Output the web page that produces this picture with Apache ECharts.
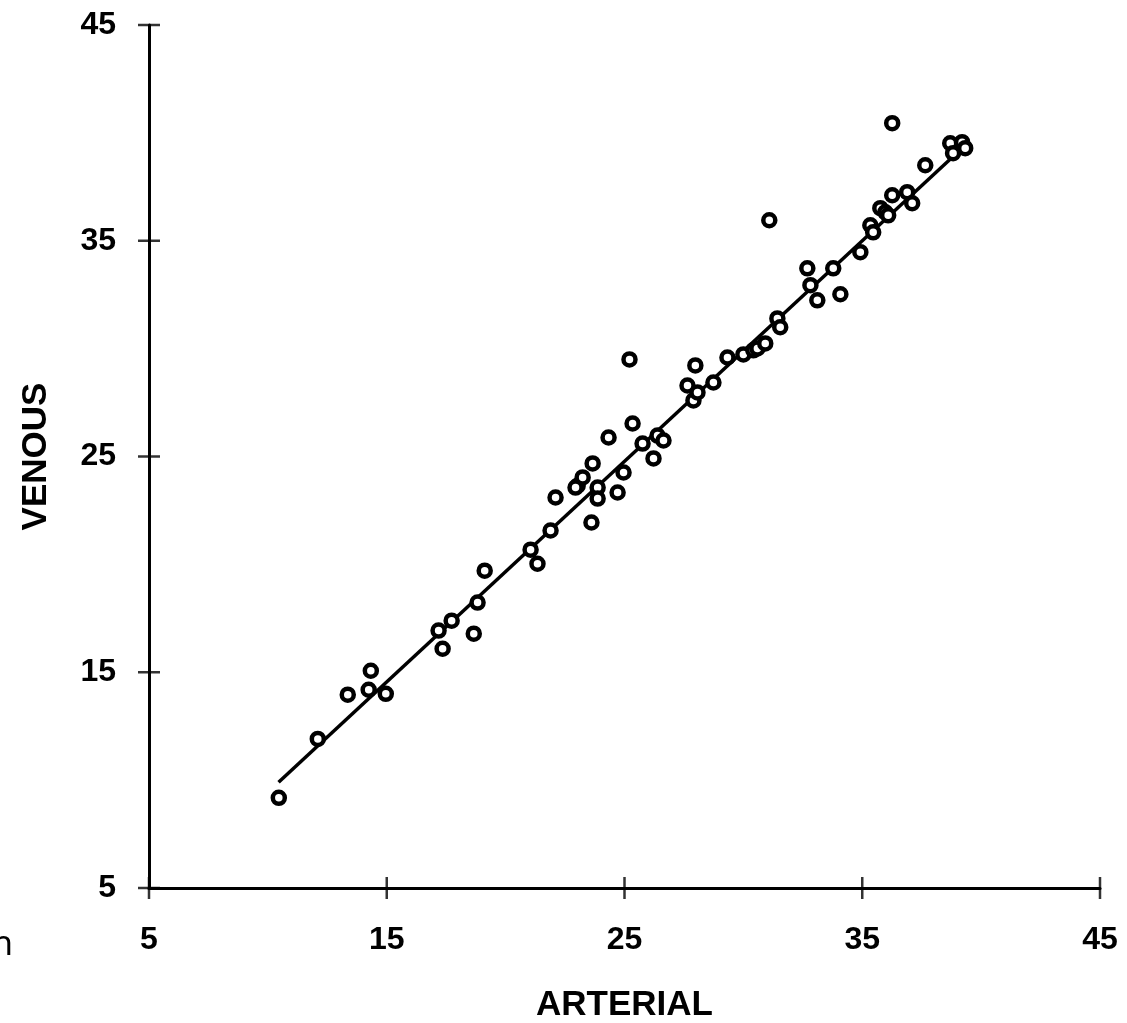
<!DOCTYPE html>
<html>
<head>
<meta charset="utf-8">
<script src="https://cdn.jsdelivr.net/npm/echarts@6/dist/echarts.min.js"></script>
<style>
  html, body { margin: 0; padding: 0; background: #fff; }
  #main { width: 1127px; height: 1023px; }
</style>
</head>
<body>
<div id="main"></div>
<script>
// arterial vs venous
var arterial = [10.46, 12.10, 13.36, 14.33, 14.24, 14.96, 17.18, 17.35, 17.73, 18.66,
  18.82, 19.12, 21.05, 21.34, 21.89, 22.10, 23.03, 23.24, 22.94, 23.61,
  23.66, 23.87, 23.87, 24.71, 24.96, 24.33, 25.21, 25.34, 25.76, 26.22,
  26.39, 26.64, 27.65, 27.90, 27.98, 28.07, 28.74, 29.33, 30.00, 30.42,
  30.59, 30.92, 31.09, 31.43, 31.55, 32.69, 32.82, 33.11, 33.78, 34.08,
  34.92, 35.34, 35.46, 35.76, 35.97, 36.09, 36.26, 36.26, 36.89, 37.10,
  37.65, 38.70, 38.82, 39.20, 39.33];
var venous = [9.18, 11.91, 13.96, 15.07, 14.19, 14.00, 16.93, 16.09, 17.39, 16.79,
  18.23, 19.71, 20.68, 20.03, 21.57, 23.10, 23.65, 24.03, 23.56, 21.94,
  24.68, 23.56, 23.05, 23.33, 24.26, 25.88, 29.50, 26.53, 25.60, 24.91,
  25.97, 25.74, 28.29, 27.60, 29.22, 27.97, 28.43, 29.59, 29.73, 29.92,
  30.01, 30.24, 35.95, 31.40, 30.99, 33.72, 32.94, 32.24, 33.72, 32.52,
  34.47, 35.72, 35.39, 36.51, 36.32, 36.18, 37.11, 40.45, 37.25, 36.74,
  38.50, 39.52, 39.06, 39.57, 39.29];
// fitted line end points
var fitX = [10.45, 39.4];
var fitY = [9.9, 39.5];
var ticks = [5, 15, 25, 35, 45];

var myChart = echarts.init(document.getElementById('main'));

var pts = arterial.map(function (a, i) { return [a, venous[i]]; });
var fit = fitX.map(function (a, i) { return [a, fitY[i]]; });
// crossing tick marks, placed on the axes through the scales
var xTickPts = ticks.map(function (t) { return [t, ticks[0]]; });
var yTickPts = ticks.map(function (t) { return [ticks[0], t]; });

var labelFont = {
  color: '#000',
  fontFamily: 'Liberation Sans',
  fontWeight: 'bold',
  fontSize: 32
};
var nameFont = {
  color: '#000',
  fontFamily: 'Liberation Sans',
  fontWeight: 'bold',
  fontSize: 35
};

var option = {
  animation: false,
  backgroundColor: '#fff',
  grid: { left: 149, right: 27, top: 25, bottom: 135, outerBoundsMode: 'none', containLabel: false },
  xAxis: {
    type: 'value', min: 5, max: 45, interval: 10,
    name: 'ARTERIAL', nameLocation: 'middle', nameGap: 100,
    nameTextStyle: nameFont,
    axisLine: { onZero: false, lineStyle: { color: '#000', width: 3 } },
    axisTick: { show: false },
    axisLabel: Object.assign({ margin: 36 }, labelFont),
    splitLine: { show: false }
  },
  yAxis: {
    type: 'value', min: 5, max: 45, interval: 10,
    name: 'VENOUS', nameLocation: 'middle', nameGap: 95,
    nameTextStyle: nameFont,
    axisLine: { onZero: false, lineStyle: { color: '#000', width: 3 } },
    axisTick: { show: false },
    axisLabel: Object.assign({ margin: 33 }, labelFont),
    splitLine: { show: false }
  },
  graphic: [{
    type: 'text', left: -8, top: 928,
    style: { text: 'n', fontFamily: 'Noto Sans', fontSize: 34, fill: '#000' }
  }],
  series: [{
    type: 'line',
    data: fit,
    symbol: 'none',
    lineStyle: { color: '#000', width: 3.5 },
    z: 2
  }, {
    type: 'scatter',
    data: pts,
    symbol: 'circle',
    symbolSize: 12,
    itemStyle: { color: '#fff', borderColor: '#000', borderWidth: 4.5, opacity: 1 },
    z: 3
  }, {
    type: 'scatter',
    data: xTickPts,
    symbol: 'rect',
    symbolSize: [2.5, 22],
    clip: false,
    silent: true,
    itemStyle: { color: '#000' },
    z: 4
  }, {
    type: 'scatter',
    data: yTickPts,
    symbol: 'rect',
    symbolSize: [22, 2.5],
    clip: false,
    silent: true,
    itemStyle: { color: '#000' },
    z: 4
  }]
};

myChart.setOption(option);
</script>
</body>
</html>
